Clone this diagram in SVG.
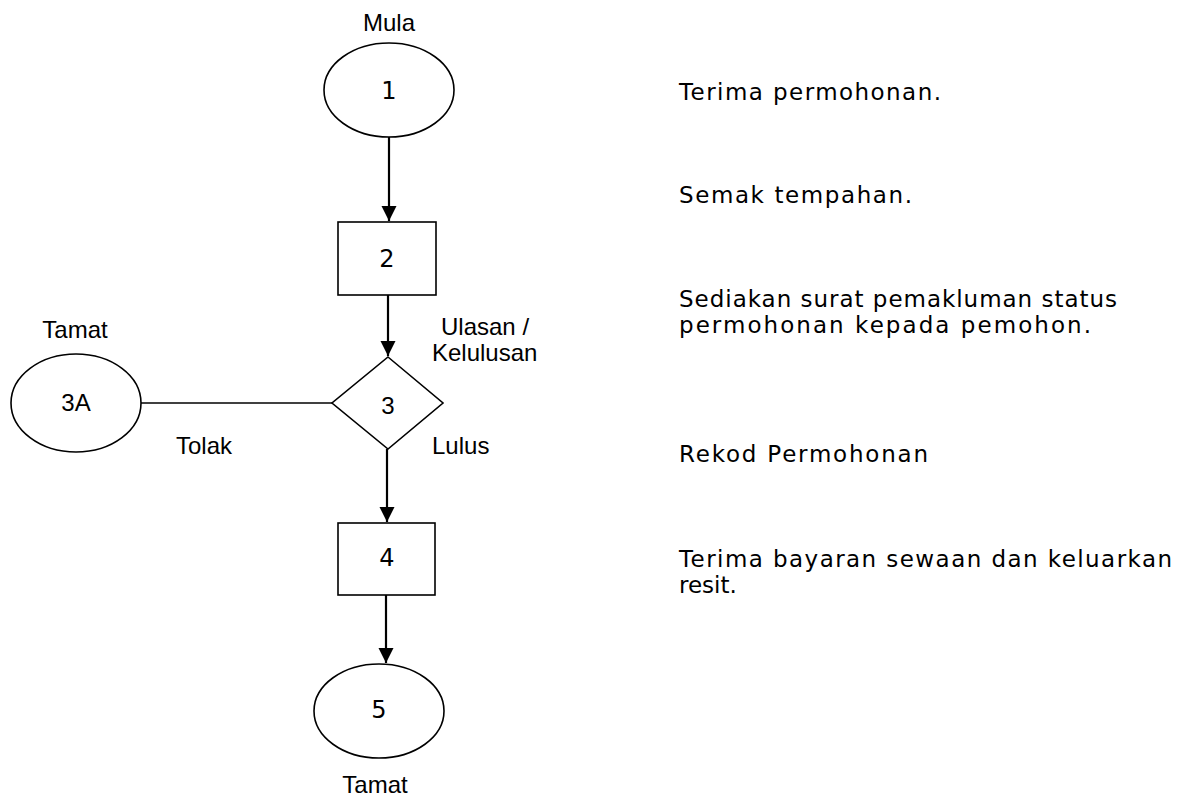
<svg xmlns="http://www.w3.org/2000/svg" width="1197" height="798" viewBox="0 0 1197 798">
<style>
.shape{fill:#fff;stroke:#000;stroke-width:1.6}
.conn{fill:none;stroke:#000;stroke-width:2.2}
.lbl{font-family:"Liberation Sans",Arial,sans-serif;font-size:24px;fill:#000}
.num{font-family:"DejaVu Sans","Liberation Sans",sans-serif;font-size:24px;fill:#000}
.desc{font-family:"DejaVu Sans","Liberation Sans",sans-serif;font-size:23px;fill:#000}
</style>
<defs>
<marker id="arr" markerUnits="userSpaceOnUse" markerWidth="16" markerHeight="16" refX="15" refY="7.5" orient="auto">
<path d="M0,0 L15,7.5 L0,15 Z" fill="#000"/>
</marker>
</defs>
<g id="connectors">
<line class="conn" x1="389" y1="137" x2="389" y2="221" marker-end="url(#arr)"/>
<line class="conn" x1="388" y1="295" x2="388" y2="356" marker-end="url(#arr)"/>
<line class="conn" x1="141" y1="403" x2="332" y2="403" style="stroke-width:1.6"/>
<line class="conn" x1="387" y1="449" x2="387" y2="522" marker-end="url(#arr)"/>
<line class="conn" x1="386" y1="595" x2="386" y2="663" marker-end="url(#arr)"/>
</g>
<g id="node1">
<ellipse class="shape" cx="389" cy="90" rx="65" ry="47"/>
<text class="lbl" x="389" y="31" text-anchor="middle">Mula</text>
<text class="num" x="389" y="99" text-anchor="middle">1</text>
</g>
<g id="node2">
<rect class="shape" x="338" y="222" width="98" height="73"/>
<text class="num" x="387" y="267" text-anchor="middle">2</text>
</g>
<g id="node3">
<polygon class="shape" points="388,357 443,403 388,449 332,403"/>
<text class="lbl" x="388" y="414" text-anchor="middle">3</text>
<text class="lbl" x="441" y="335">Ulasan /</text>
<text class="lbl" x="432" y="361">Kelulusan</text>
<text class="lbl" x="432" y="454">Lulus</text>
<text class="lbl" x="204" y="454" text-anchor="middle">Tolak</text>
</g>
<g id="node3A">
<ellipse class="shape" cx="76" cy="403" rx="65" ry="49"/>
<text class="lbl" x="75" y="338" text-anchor="middle">Tamat</text>
<text class="lbl" x="76" y="411" text-anchor="middle">3A</text>
</g>
<g id="node4">
<rect class="shape" x="338" y="523" width="97" height="72"/>
<text class="num" x="387" y="566" text-anchor="middle">4</text>
</g>
<g id="node5">
<ellipse class="shape" cx="379" cy="711" rx="65" ry="47"/>
<text class="num" x="379" y="718" text-anchor="middle">5</text>
<text class="lbl" x="375" y="793" text-anchor="middle">Tamat</text>
</g>
<g id="descriptions">
<text class="desc" x="679" y="100" textLength="262" lengthAdjust="spacing">Terima permohonan.</text>
<text class="desc" x="679" y="203" textLength="233" lengthAdjust="spacing">Semak tempahan.</text>
<text class="desc" x="679" y="307" textLength="438" lengthAdjust="spacing">Sediakan surat pemakluman status</text>
<text class="desc" x="679" y="333" textLength="412" lengthAdjust="spacing">permohonan kepada pemohon.</text>
<text class="desc" x="679" y="462" textLength="249" lengthAdjust="spacing">Rekod Permohonan</text>
<text class="desc" x="679" y="567" textLength="493" lengthAdjust="spacing">Terima bayaran sewaan dan keluarkan</text>
<text class="desc" x="679" y="593">resit.</text>
</g>
</svg>
